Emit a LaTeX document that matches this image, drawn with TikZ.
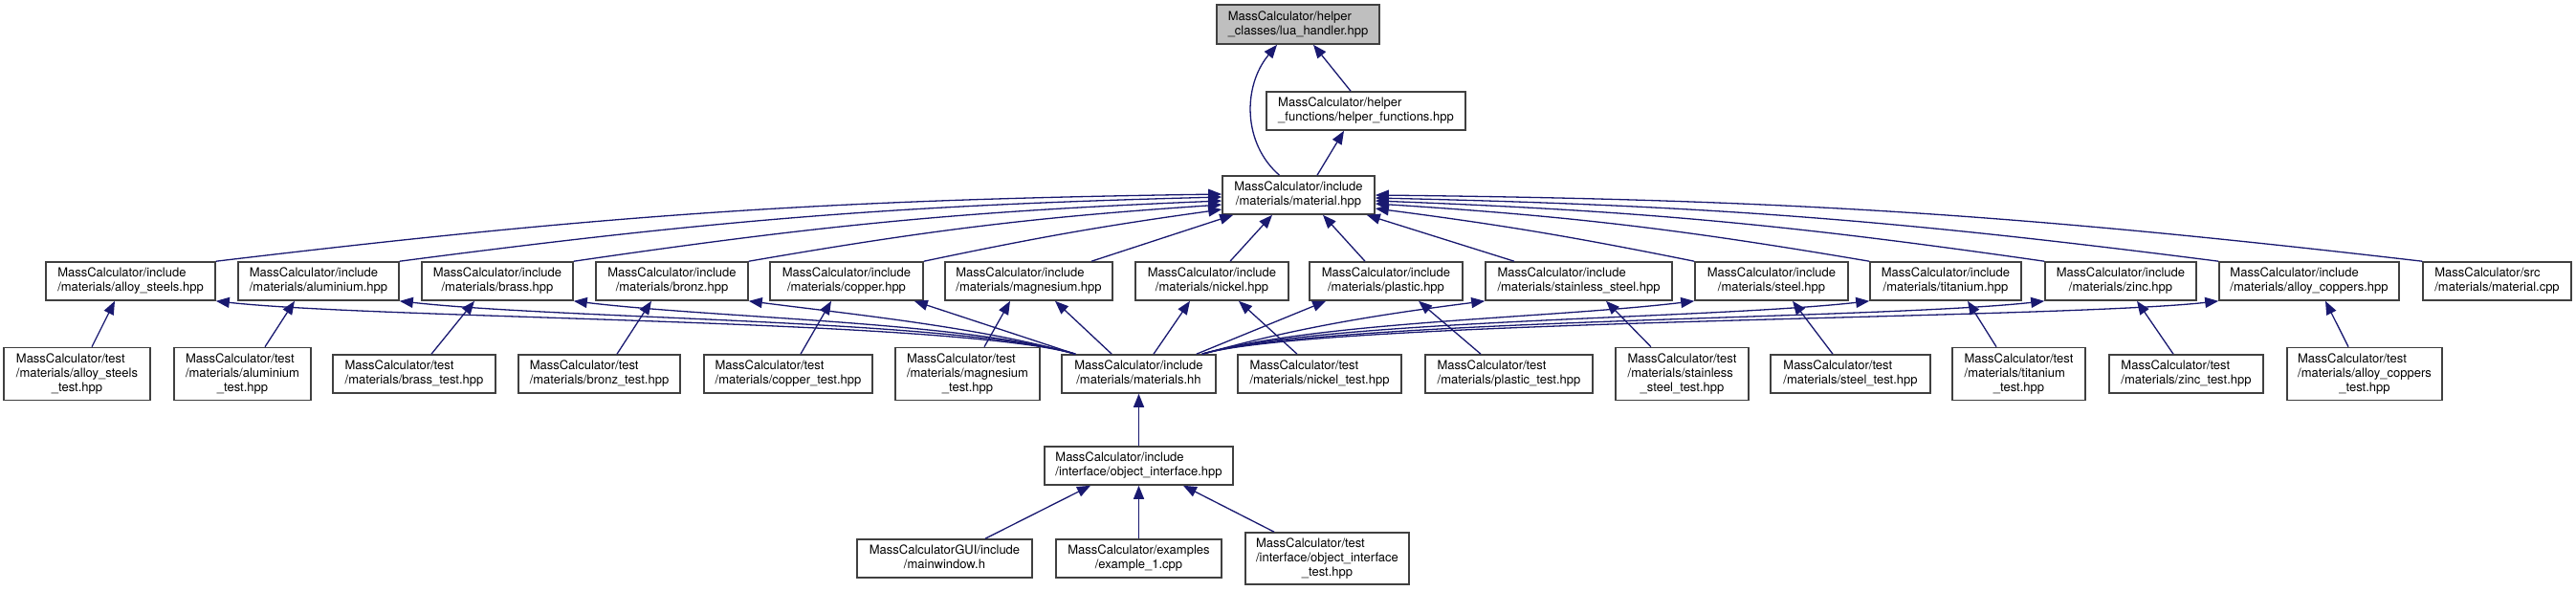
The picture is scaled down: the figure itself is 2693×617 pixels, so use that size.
\documentclass[tikz,border=0pt]{standalone}
\usepackage{fontspec}
\setmainfont{TeX Gyre Heros}
\usepackage{xcolor}
\usepackage{tikz}
\usetikzlibrary{arrows.meta,calc}

\definecolor{edgeblue}{HTML}{191970}
\definecolor{boxline}{HTML}{404040}
\definecolor{rootfill}{HTML}{BFBFBF}

\newcommand{\graphfont}{\fontsize{6.5pt}{7.5pt}\selectfont}
\newcommand{\labtwo}[2]{\begin{tabular}{@{}l@{}}#1\\\multicolumn{1}{@{}c@{}}{#2}\end{tabular}}
\newcommand{\labthree}[3]{\begin{tabular}{@{}l@{}}#1\\#2\\\multicolumn{1}{@{}c@{}}{#3}\end{tabular}}

\begin{document}
\begin{tikzpicture}[x=0.5pt, y=0.5pt,
    box/.style={draw=boxline, line width=0.8pt, rectangle, inner sep=0pt, minimum height=20pt, font=\graphfont},
    tallbox/.style={box, minimum height=27.5pt},
    incl/.style={draw=edgeblue, line width=0.65pt, -{Triangle[length=7pt, width=5.5pt]}}]

    \useasboundingbox (0,0) rectangle (2693,-617);

    % Root header and helpers
    \node[box, fill=rootfill, minimum width=85pt, minimum height=20.5pt] (lua) at (1357,-25.5) {\labtwo{MassCalculator/helper}{\_classes/lua\_handler.hpp}};
    \node[box, minimum width=104pt] (helper) at (1428,-116) {\labtwo{MassCalculator/helper}{\_functions/helper\_functions.hpp}};
    \node[box, minimum width=79.5pt] (material) at (1357.5,-204) {\labtwo{MassCalculator/include}{/materials/material.hpp}};

    % Material headers
    \node[box, minimum width=88.5pt] (alloysteels) at (136.5,-294) {\labtwo{MassCalculator/include}{/materials/alloy\_steels.hpp}};
    \node[box, minimum width=84pt] (aluminium) at (333,-294) {\labtwo{MassCalculator/include}{/materials/aluminium.hpp}};
    \node[box, minimum width=79pt] (brass) at (520,-294) {\labtwo{MassCalculator/include}{/materials/brass.hpp}};
    \node[box, minimum width=79.5pt] (bronz) at (702.5,-294) {\labtwo{MassCalculator/include}{/materials/bronz.hpp}};
    \node[box, minimum width=80pt] (copper) at (885,-294) {\labtwo{MassCalculator/include}{/materials/copper.hpp}};
    \node[box, minimum width=87.5pt] (magnesium) at (1075.5,-294) {\labtwo{MassCalculator/include}{/materials/magnesium.hpp}};
    \node[box, minimum width=80pt] (nickel) at (1267,-294) {\labtwo{MassCalculator/include}{/materials/nickel.hpp}};
    \node[box, minimum width=80pt] (plastic) at (1449,-294) {\labtwo{MassCalculator/include}{/materials/plastic.hpp}};
    \node[box, minimum width=97.5pt] (stainless) at (1650.5,-294) {\labtwo{MassCalculator/include}{/materials/stainless\_steel.hpp}};
    \node[box, minimum width=80pt] (steel) at (1852,-294) {\labtwo{MassCalculator/include}{/materials/steel.hpp}};
    \node[box, minimum width=79pt] (titanium) at (2034,-294) {\labtwo{MassCalculator/include}{/materials/titanium.hpp}};
    \node[box, minimum width=79pt] (zinc) at (2217,-294) {\labtwo{MassCalculator/include}{/materials/zinc.hpp}};
    \node[box, minimum width=94pt] (alloycoppers) at (2414,-294) {\labtwo{MassCalculator/include}{/materials/alloy\_coppers.hpp}};
    \node[box, minimum width=77.5pt] (materialcpp) at (2610.5,-294) {\labtwo{MassCalculator/src}{/materials/material.cpp}};

    % Tests and collecting header
    \node[tallbox, minimum width=76.5pt] (alloysteelstest) at (80.5,-391) {\labthree{MassCalculator/test}{/materials/alloy\_steels}{\_test.hpp}};
    \node[tallbox, minimum width=71.5pt] (aluminiumtest) at (253.5,-391) {\labthree{MassCalculator/test}{/materials/aluminium}{\_test.hpp}};
    \node[box, minimum width=85pt] (brasstest) at (433,-391) {\labtwo{MassCalculator/test}{/materials/brass\_test.hpp}};
    \node[box, minimum width=84.5pt] (bronztest) at (626.5,-391) {\labtwo{MassCalculator/test}{/materials/bronz\_test.hpp}};
    \node[box, minimum width=88pt] (coppertest) at (824,-391) {\labtwo{MassCalculator/test}{/materials/copper\_test.hpp}};
    \node[tallbox, minimum width=75.5pt] (magnesiumtest) at (1011.5,-391) {\labthree{MassCalculator/test}{/materials/magnesium}{\_test.hpp}};
    \node[box, minimum width=80.5pt] (materialshh) at (1190.5,-391) {\labtwo{MassCalculator/include}{/materials/materials.hh}};
    \node[box, minimum width=85.5pt] (nickeltest) at (1379.5,-391) {\labtwo{MassCalculator/test}{/materials/nickel\_test.hpp}};
    \node[box, minimum width=87.5pt] (plastictest) at (1577.5,-391) {\labtwo{MassCalculator/test}{/materials/plastic\_test.hpp}};
    \node[tallbox, minimum width=69.5pt] (stainlesstest) at (1758.5,-391) {\labthree{MassCalculator/test}{/materials/stainless}{\_steel\_test.hpp}};
    \node[box, minimum width=83.5pt] (steeltest) at (1934.5,-391) {\labtwo{MassCalculator/test}{/materials/steel\_test.hpp}};
    \node[tallbox, minimum width=69.5pt] (titaniumtest) at (2110.5,-391) {\labthree{MassCalculator/test}{/materials/titanium}{\_test.hpp}};
    \node[box, minimum width=80.5pt] (zinctest) at (2285.5,-391) {\labtwo{MassCalculator/test}{/materials/zinc\_test.hpp}};
    \node[tallbox, minimum width=81pt] (alloycopperstest) at (2472,-391) {\labthree{MassCalculator/test}{/materials/alloy\_coppers}{\_test.hpp}};

    % Interface and its users
    \node[box, minimum width=98.5pt] (objectinterface) at (1190.5,-487) {\labtwo{MassCalculator/include}{/interface/object\_interface.hpp}};
    \node[box, minimum width=91.5pt] (mainwindow) at (987.5,-584) {\labtwo{MassCalculatorGUI/include}{/mainwindow.h}};
    \node[box, minimum width=86.5pt] (example1) at (1190.5,-584) {\labtwo{MassCalculator/examples}{/example\_1.cpp}};
    \node[tallbox, minimum width=85.5pt, minimum height=27pt] (objinterfacetest) at (1387.5,-584) {\labthree{MassCalculator/test}{/interface/object\_interface}{\_test.hpp}};

    % Top edges
    \draw[incl] ([xshift=-10pt]material.north) .. controls (1299,-150) and (1299,-90) .. ([xshift=-11pt]lua.south);
    \draw[incl] ([xshift=-8pt]helper.north) -- ([xshift=8pt]lua.south);
    \draw[incl] ([xshift=9.75pt]material.north) -- ([xshift=-11.5pt]helper.south);

    % Headers include material.hpp
    \draw[incl] (alloysteels.north east) to[bend left=3] ($(material.west)+(0,1)$);
    \draw[incl] (aluminium.north east) to[bend left=3] ($(material.west)+(0,-2)$);
    \draw[incl] (brass.north east) to[bend left=3] ($(material.west)+(0,-6)$);
    \draw[incl] (bronz.north east) to[bend left=3] ($(material.west)+(0,-10)$);
    \draw[incl] (copper.north east) to[bend left=2] ($(material.west)+(0,-15)$);
    \draw[incl] ([xshift=32.75pt]magnesium.north) -- ([xshift=6pt]material.south west);
    \draw[incl] ([xshift=9.5pt]nickel.north) -- ([xshift=-13.75pt]material.south);
    \draw[incl] ([xshift=-11pt]plastic.north) -- ([xshift=12.75pt]material.south);
    \draw[incl] ([xshift=-33.75pt]stainless.north) -- ([xshift=-4.5pt]material.south east);
    \draw[incl] (steel.north west) to[bend right=2] ($(material.east)+(0,-14)$);
    \draw[incl] (titanium.north west) to[bend right=3] ($(material.east)+(0,-9)$);
    \draw[incl] (zinc.north west) to[bend right=3] ($(material.east)+(0,-6)$);
    \draw[incl] (alloycoppers.north west) to[bend right=3] ($(material.east)+(0,-3)$);
    \draw[incl] (materialcpp.north west) to[bend right=3] ($(material.east)+(0,0)$);

    % materials.hh includes every header
    \draw[incl] ([xshift=7.5pt]materialshh.north west) .. controls +(-125,36) and +(172,-19) .. (alloysteels.south east);
    \draw[incl] ([xshift=7.5pt]materialshh.north west) .. controls +(-125,36) and +(170,-19) .. (aluminium.south east);
    \draw[incl] ([xshift=7.5pt]materialshh.north west) .. controls +(-120,34) and +(150,-18) .. (brass.south east);
    \draw[incl] ([xshift=7.5pt]materialshh.north west) .. controls +(-100,28) and +(110,-14) .. (bronz.south east);
    \draw[incl] ([xshift=7.5pt]materialshh.north west) -- ([xshift=-5pt]copper.south east);
    \draw[incl] ([xshift=26.5pt]materialshh.north west) -- ([xshift=13.75pt]magnesium.south);
    \draw[incl] ([xshift=7.75pt]materialshh.north) -- ([xshift=-11.5pt]nickel.south);
    \draw[incl] ([xshift=-10.5pt]materialshh.north east) -- ([xshift=9pt]plastic.south west);
    \draw[incl] ([xshift=-7.5pt]materialshh.north east) .. controls +(100,28) and +(-110,-14) .. (stainless.south west);
    \draw[incl] ([xshift=-7.5pt]materialshh.north east) .. controls +(120,34) and +(-150,-18) .. (steel.south west);
    \draw[incl] ([xshift=-7.5pt]materialshh.north east) .. controls +(125,36) and +(-170,-19) .. (titanium.south west);
    \draw[incl] ([xshift=-7.5pt]materialshh.north east) .. controls +(125,36) and +(-170,-19) .. (zinc.south west);
    \draw[incl] ([xshift=-7.5pt]materialshh.north east) .. controls +(125,36) and +(-170,-19) .. (alloycoppers.south west);

    % Tests include their header
    \draw[incl] ([xshift=7.75pt]alloysteelstest.north) -- ([xshift=-8.25pt]alloysteels.south);
    \draw[incl] ([xshift=11.75pt]aluminiumtest.north) -- ([xshift=-12.5pt]aluminium.south);
    \draw[incl] ([xshift=9pt]brasstest.north) -- ([xshift=-12pt]brass.south);
    \draw[incl] ([xshift=9.25pt]bronztest.north) -- ([xshift=-10.75pt]bronz.south);
    \draw[incl] ([xshift=6.5pt]coppertest.north) -- ([xshift=-8pt]copper.south);
    \draw[incl] ([xshift=8.75pt]magnesiumtest.north) -- ([xshift=-9.75pt]magnesium.south);
    \draw[incl] ([xshift=-11.75pt]nickeltest.north) -- ([xshift=14pt]nickel.south);
    \draw[incl] ([xshift=-14.75pt]plastictest.north) -- ([xshift=17pt]plastic.south);
    \draw[incl] ([xshift=-16.25pt]stainlesstest.north) -- ([xshift=14.25pt]stainless.south);
    \draw[incl] ([xshift=-9.25pt]steeltest.north) -- ([xshift=11pt]steel.south);
    \draw[incl] ([xshift=-11.75pt]titaniumtest.north) -- ([xshift=11.5pt]titanium.south);
    \draw[incl] ([xshift=-6.75pt]zinctest.north) -- ([xshift=8.5pt]zinc.south);
    \draw[incl] ([xshift=-8.5pt]alloycopperstest.north) -- ([xshift=8.5pt]alloycoppers.south);

    % Interface
    \draw[incl] (objectinterface.north) -- (materialshh.south);
    \draw[incl] ([xshift=21.25pt]mainwindow.north) -- ([xshift=-25.25pt]objectinterface.south);
    \draw[incl] (example1.north) -- (objectinterface.south);
    \draw[incl] ([xshift=-27.75pt]objinterfacetest.north) -- ([xshift=23.25pt]objectinterface.south);

\end{tikzpicture}
\end{document}
